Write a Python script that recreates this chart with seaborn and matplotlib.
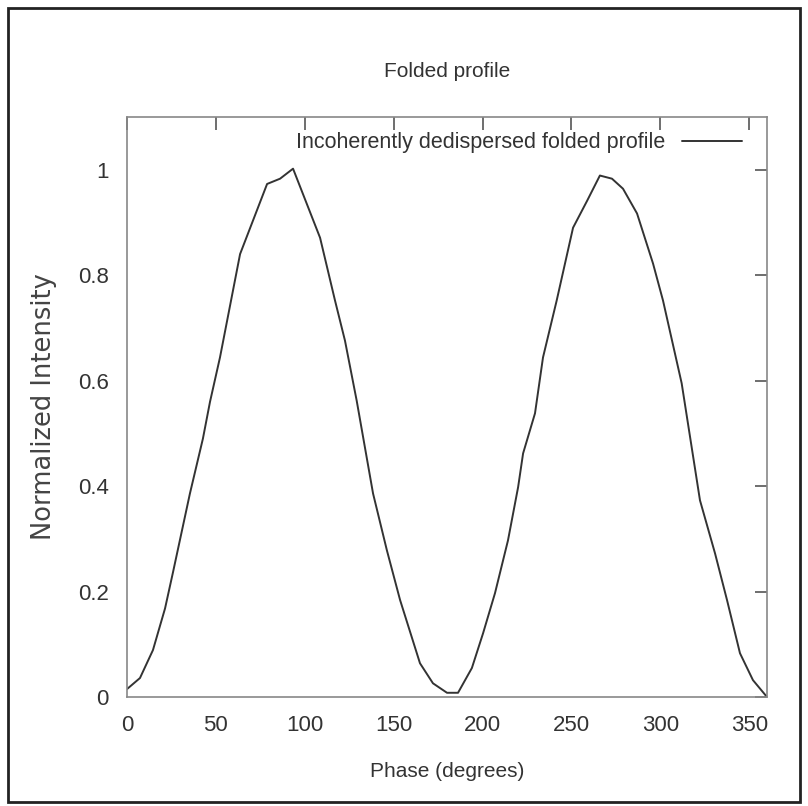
import matplotlib
matplotlib.use("Agg")
import matplotlib.pyplot as plt
import seaborn as sns
import pandas as pd
from matplotlib.patches import Rectangle

phase = [0, 7.3, 14.6, 21.4, 25.9, 35.4, 42.7, 46.7, 52.3, 63.6, 78.8, 86.1, 93.4,
         108.6, 117.0, 122.6, 129.2, 138.4, 146.2, 153.6, 164.8, 172.1, 180.0,
         186.2, 194.0, 200.3, 207.0, 214.3, 220.0, 222.8, 229.5, 234.0, 241.7,
         250.9, 258.8, 266.0, 272.8, 279.0, 286.9, 295.9, 301.5, 312.0, 322.3,
         330.8, 337.5, 344.8, 352.1, 360.0]
intensity = [0.015, 0.036, 0.089, 0.168, 0.237, 0.386, 0.49, 0.56, 0.644, 0.84,
             0.973, 0.983, 1.002, 0.871, 0.752, 0.676, 0.562, 0.386, 0.278, 0.184,
             0.064, 0.026, 0.008, 0.008, 0.055, 0.121, 0.197, 0.297, 0.398, 0.462,
             0.538, 0.644, 0.752, 0.89, 0.941, 0.989, 0.983, 0.964, 0.917, 0.822,
             0.752, 0.595, 0.373, 0.272, 0.184, 0.083, 0.032, 0.0]
xticks = [0, 50, 100, 150, 200, 250, 300, 350]
yticks = [0, 0.2, 0.4, 0.6, 0.8, 1.0]
ytick_labels = ["0", "0.2", "0.4", "0.6", "0.8", "1"]
series_label = "Incoherently dedispersed folded profile"

sns.set_theme(style="white")
plt.rcParams['font.family'] = ['Liberation Sans', 'DejaVu Sans']

df = pd.DataFrame({"Phase": phase, "Intensity": intensity})

fig = plt.figure(figsize=(8.08, 8.06), dpi=100)
ax = fig.add_axes([127/808, 1-697/806, 640/808, 580/806])

sns.lineplot(data=df, x="Phase", y="Intensity", ax=ax, color="#333333",
             linewidth=1.4, label=series_label)

ax.set_xlim(0, 360)
ax.set_ylim(0, 1.1)
ax.set_xticks(xticks)
ax.set_xticklabels([str(t) for t in xticks])
ax.set_yticks(yticks)
ax.set_yticklabels(ytick_labels)

txtc = "#333333"
ax.tick_params(axis="both", direction="in", length=9, width=1.2, color="#555555",
               top=True, right=True, labelsize=16, labelcolor=txtc)
ax.tick_params(axis="x", pad=13)
ax.tick_params(axis="y", pad=13)
for s in ax.spines.values():
    s.set_color("#888888")
    s.set_linewidth(1.2)

ax.set_xlabel("Phase (degrees)", fontsize=15, color=txtc, labelpad=19)
ax.set_ylabel("Normalized Intensity", fontsize=18.5, color="#444444", labelpad=15,
              family=["DejaVu Sans"])
ax.set_title("Folded profile", fontsize=15, color=txtc, pad=29)

leg = ax.legend(loc="upper right", frameon=False, fontsize=15.5, markerfirst=False,
                handlelength=2.8, borderaxespad=0.3, bbox_to_anchor=(0.985, 1.0),
                labelcolor=txtc)

fig.patches.append(Rectangle((8/808, 1-802/806), 792/808, 794/806,
                             transform=fig.transFigure, fill=False,
                             edgecolor="#222222", linewidth=2))

fig.savefig("out.png", dpi=100, facecolor="white")
